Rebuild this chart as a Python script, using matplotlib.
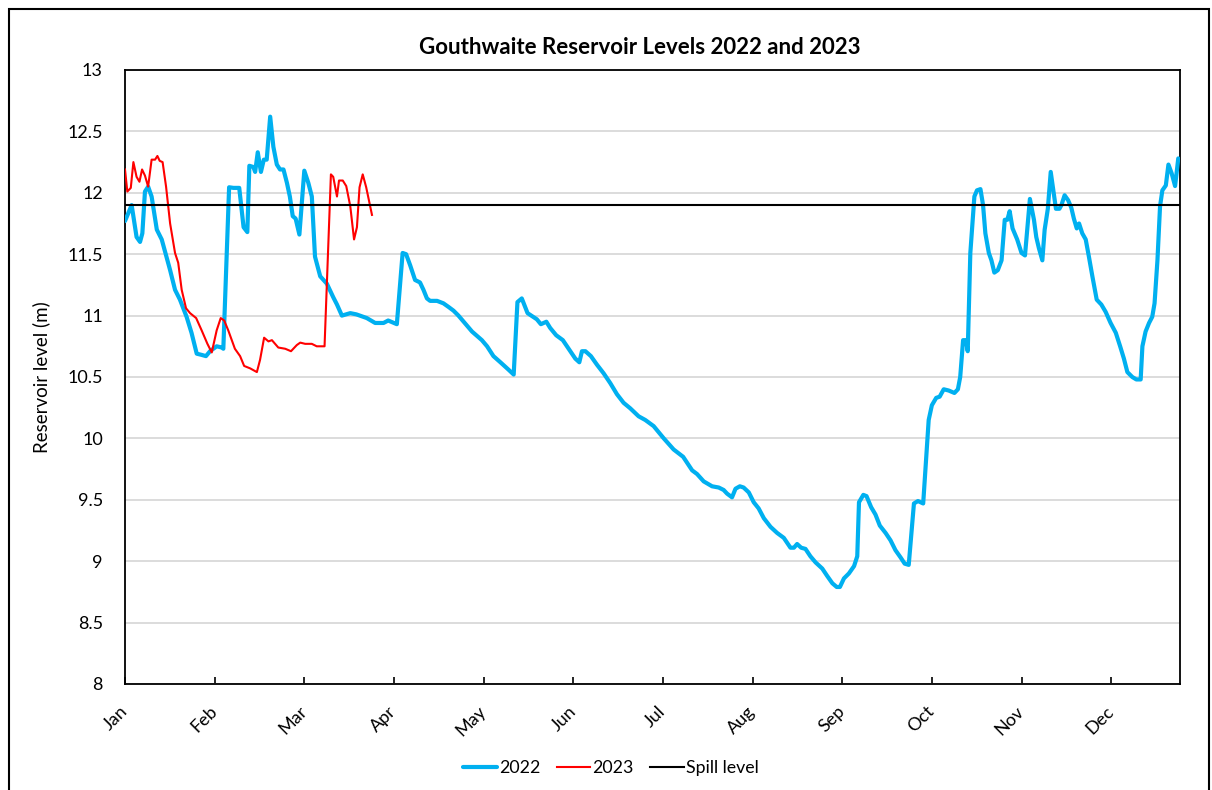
import matplotlib
matplotlib.use("Agg")
import matplotlib.pyplot as plt
from matplotlib.patches import Rectangle

plt.rcParams['font.family'] = ['Lato', 'DejaVu Sans']

# Day-of-year positions (0 = 1 Jan) and reservoir levels (m)
days_2022 = [0, 2.3, 4, 5.2, 6, 6.9, 8, 9.2, 11, 12.7, 15.6, 17.3, 19, 21.3, 23, 24.8,
             26.5, 28, 29.4, 31.7, 33.5, 34, 36, 37.5, 39.5, 41, 42.3, 43, 44.4, 45,
             45.9, 47, 48, 49, 50.2, 51.3, 52.5, 53.6, 54.8, 56, 57, 58, 59, 60.3, 62,
             63.4, 64.6, 65.7, 67.5, 69.8, 72, 73.3, 75, 77.9, 80, 83.6, 86.5, 89.4, 91,
             94, 96, 97.2, 98.6, 100.3, 102, 103.2, 104.4, 105.5, 107.9, 110.1, 111.9,
             113.6, 115.3, 117.1, 120, 123.4, 125.2, 127.4, 129.8, 132.6, 134.4, 135.7,
             137.2, 139.2, 141.1, 142.4, 143.8, 145.7, 147, 149.1, 151.4, 153.4, 155.7,
             157.1, 158, 159.2, 161.1, 163.2, 165.5, 167.8, 170.1, 172.4, 174.7, 177.6,
             179.9, 182.8, 186.3, 189.7, 193, 196.1, 197.8, 200.1, 203, 205.3, 207,
             208.2, 209.9, 211.1, 212.6, 213.9, 215.7, 217.4, 219.1, 220.9, 223.2, 225.5,
             227.8, 230.1, 231.3, 232.4, 233.8, 235.3, 237, 238.8, 241.1, 242.8, 244.6,
             246.1, 247.2, 248.6, 250.3, 252.1, 253.2, 253.8, 255.3, 256.4, 258, 259.5,
             261, 263, 264.7, 266.4, 268.2, 269.6, 271, 272.8, 274.2, 276, 277.9, 279,
             280.5, 281.7, 283.1, 284.8, 286.8, 288, 288.8, 289.8, 290.8, 291.4, 292.3,
             293.7, 294.6, 295.8, 296.7, 297.5, 298.7, 299.6, 300.6, 301.8, 303.1, 304.2,
             305.1, 305.9, 306.9, 308.5, 310, 311.2, 312.9, 314.3, 315.1, 316, 317.2, 318,
             319.1, 320.1, 321, 321.9, 323.1, 323.8, 324.9, 326.1, 327.2, 328.1, 329.1,
             329.9, 331, 332.2, 333.3, 334.5, 336, 337.6, 339.1, 340.8, 342.6, 344.1,
             345.4, 346.6, 348.3, 349.7, 351.2, 351.8, 352.9, 354.1, 355.2, 356, 357,
             357.9, 358.7, 359.9, 360.8, 361.9, 363.1, 364.2]
level_2022 = [11.77, 11.90, 11.64, 11.60, 11.67, 12.01, 12.05, 11.97, 11.70, 11.62, 11.37,
              11.21, 11.13, 10.99, 10.86, 10.69, 10.68, 10.67, 10.71, 10.75, 10.74, 10.73,
              12.045, 12.04, 12.04, 11.72, 11.68, 12.22, 12.21, 12.17, 12.33, 12.17, 12.27,
              12.27, 12.62, 12.375, 12.23, 12.19, 12.19, 12.08, 11.97, 11.81, 11.79, 11.66,
              12.18, 12.08, 11.97, 11.48, 11.32, 11.26, 11.15, 11.09, 11.00, 11.02, 11.01,
              10.98, 10.94, 10.94, 10.96, 10.93, 11.51, 11.50, 11.41, 11.29, 11.27, 11.21,
              11.14, 11.12, 11.12, 11.10, 11.07, 11.04, 11.00, 10.95, 10.87, 10.80, 10.75,
              10.67, 10.62, 10.56, 10.52, 11.11, 11.14, 11.02, 10.99, 10.97, 10.93, 10.95,
              10.90, 10.84, 10.80, 10.73, 10.65, 10.62, 10.71, 10.71, 10.67, 10.60, 10.53,
              10.45, 10.36, 10.29, 10.245, 10.18, 10.15, 10.10, 10.00, 9.91, 9.85, 9.74,
              9.71, 9.65, 9.61, 9.60, 9.58, 9.55, 9.52, 9.59, 9.61, 9.60, 9.56, 9.48, 9.43,
              9.35, 9.28, 9.23, 9.19, 9.11, 9.11, 9.14, 9.11, 9.10, 9.04, 8.99, 8.94, 8.88,
              8.82, 8.79, 8.79, 8.86, 8.90, 8.96, 9.04, 9.48, 9.54, 9.53, 9.44, 9.38, 9.29,
              9.23, 9.17, 9.09, 9.03, 8.98, 8.97, 9.47, 9.49, 9.47, 10.15, 10.27, 10.33,
              10.34, 10.40, 10.39, 10.37, 10.40, 10.50, 10.80, 10.80, 10.71, 11.51, 11.97,
              12.02, 12.03, 11.90, 11.67, 11.51, 11.45, 11.35, 11.37, 11.45, 11.78, 11.78,
              11.85, 11.71, 11.62, 11.51, 11.49, 11.95, 11.78, 11.64, 11.55, 11.45, 11.70,
              11.87, 12.17, 12.02, 11.87, 11.87, 11.90, 11.98, 11.94, 11.88, 11.79, 11.71,
              11.75, 11.67, 11.62, 11.48, 11.32, 11.13, 11.09, 11.03, 10.94, 10.86, 10.75,
              10.65, 10.54, 10.50, 10.48, 10.48, 10.75, 10.87, 10.94, 10.99, 11.10, 11.45,
              11.89, 12.02, 12.06, 12.23, 12.16, 12.055, 12.28]

days_2023 = [0, 0.8, 2, 2.9, 4, 5, 5.9, 6.9, 8, 9.2, 10.4, 11.2, 12, 13, 14.2, 15.6, 17.3,
             18.4, 19.6, 21.1, 22.5, 24.6, 26.5, 28.5, 30, 31.7, 33.1, 34.3, 35.7, 38,
             39.8, 41.2, 43.3, 45.6, 46.7, 48.1, 49.6, 50.8, 51.9, 53, 55.4, 57.4, 59.4,
             60.6, 62.3, 64.6, 66.3, 69, 71.2, 72, 73.3, 74, 75.3, 76.5, 77.9, 79.2, 80.2,
             81.1, 82.2, 83.4, 85.4]
level_2023 = [12.19, 12.01, 12.04, 12.25, 12.13, 12.09, 12.19, 12.14, 12.05, 12.27, 12.27,
              12.30, 12.26, 12.25, 12.05, 11.75, 11.51, 11.43, 11.21, 11.06, 11.02, 10.98,
              10.88, 10.77, 10.70, 10.88, 10.98, 10.96, 10.88, 10.73, 10.67, 10.59, 10.57,
              10.54, 10.64, 10.82, 10.79, 10.80, 10.77, 10.74, 10.73, 10.71, 10.76, 10.78,
              10.77, 10.77, 10.75, 10.75, 12.15, 12.13, 11.97, 12.10, 12.10, 12.055, 11.89,
              11.62, 11.72, 12.045, 12.15, 12.045, 11.82]

spill_level = 11.9

month_labels = ['Jan', 'Feb', 'Mar', 'Apr', 'May', 'Jun',
                'Jul', 'Aug', 'Sep', 'Oct', 'Nov', 'Dec']
month_ticks = [31 * i for i in range(12)]

W, H = 1212, 790
fig = plt.figure(figsize=(W / 100, H / 100), dpi=100)
ax = fig.add_axes([125 / W, 1 - 684 / H, (1180 - 125) / W, (684 - 70) / H])

ax.plot(days_2022, level_2022, color='#00B0F0', lw=3.0, solid_joinstyle='round',
        solid_capstyle='round', label='2022', zorder=3)
ax.plot(days_2023, level_2023, color='#FF0000', lw=1.5, solid_joinstyle='round',
        label='2023', zorder=4)
ax.axhline(spill_level, color='black', lw=1.5, label='Spill level', zorder=5)

ax.set_xlim(0, 364.8)
ax.set_ylim(8, 13)
ax.set_yticks([8 + 0.5 * i for i in range(11)])
ax.set_yticklabels(['8', '8.5', '9', '9.5', '10', '10.5', '11', '11.5', '12', '12.5', '13'])
ax.set_xticks(month_ticks)
ax.set_xticklabels(month_labels, rotation=45, ha='right', va='center',
                   rotation_mode='anchor')
ax.tick_params(axis='x', direction='in', length=5, width=1.2, pad=18, labelsize=13)
ax.tick_params(axis='y', length=0, pad=16, labelsize=13)
ax.grid(axis='y', color='#d9d9d9', lw=1.3)
ax.set_axisbelow(True)
for s in ax.spines.values():
    s.set_color('black')
    s.set_linewidth(1.3)
ax.set_ylabel('Reservoir level (m)', fontsize=13.5, labelpad=12)

fig.text(640 / W, 1 - 47 / H, 'Gouthwaite Reservoir Levels 2022 and 2023',
         ha='center', va='center', fontsize=16, fontweight='bold')

fig.legend(loc='center', bbox_to_anchor=(611 / W, 1 - 768 / H), ncol=3, frameon=False,
           fontsize=12.8, handlelength=1.9, handletextpad=0.12, columnspacing=0.9)

# Outer chart border
fig.patches.append(Rectangle((9 / W, -0.01), (1209 - 9) / W, 1 - 9 / H + 0.01,
                             transform=fig.transFigure, fill=False,
                             edgecolor='black', lw=1.5))

fig.savefig('out.png', dpi=100)
